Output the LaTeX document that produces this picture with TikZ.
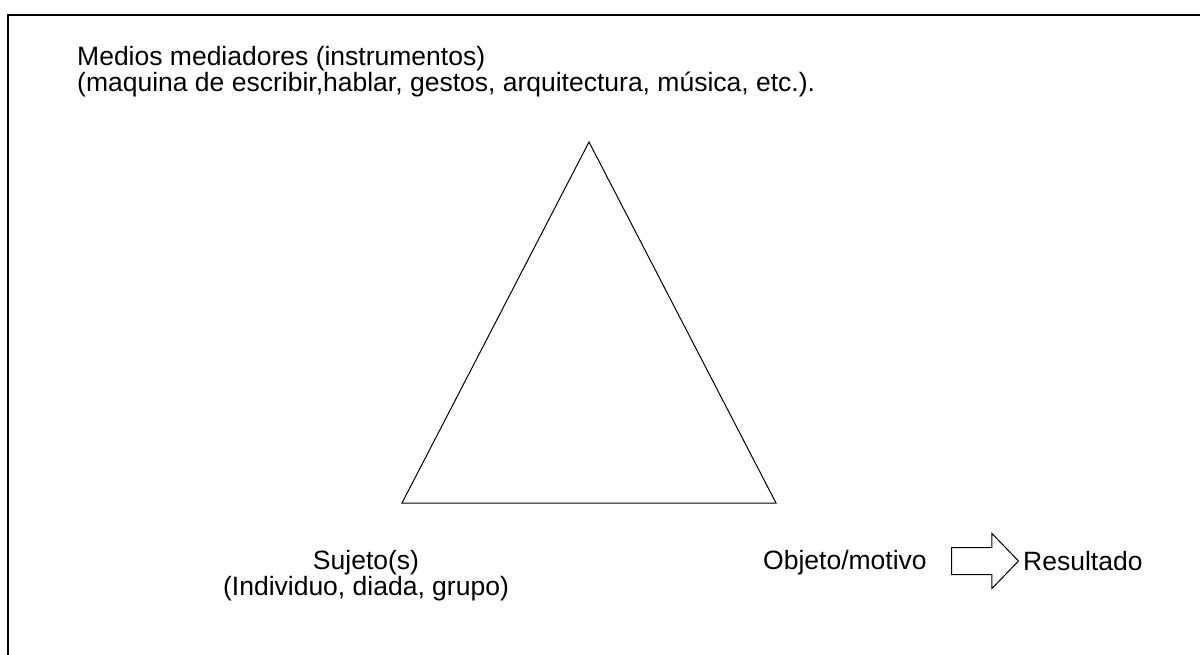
\documentclass[tikz,border=0pt]{standalone}
\usepackage{fontspec}
\setmainfont{Liberation Sans}
\usepackage{xcolor}
\usepackage{tikz}
\usetikzlibrary{positioning,shapes.arrows}
\definecolor{cline}{HTML}{000000}
\tikzset{
  lbl/.style={inner sep=0pt, font=\fontsize{26.5}{26}\selectfont, text=cline},
  marco/.style={draw=cline, line width=1.6pt},
  tri/.style={draw=cline, line width=1pt, line join=miter},
  bigarr/.style={single arrow, draw=cline, line width=1pt, inner xsep=0pt,
    inner ysep=13pt, minimum height=67pt, single arrow head extend=14pt,
    single arrow tip angle=92, anchor=tail},
}
\begin{document}
\begin{tikzpicture}[x=1pt, y=-1pt]
  \useasboundingbox (0,0) rectangle (1200,655);
  % frame
  \draw[marco] (8,655) -- (8,15) -- (1200,15);

  \node[lbl, anchor=north west, align=left] (medios) at (77,46)
    {Medios mediadores (instrumentos)\\(maquina de escribir,hablar, gestos, arquitectura, música, etc.).};

  % triangle
  \coordinate (apex) at (589,142);
  \coordinate (izq) at (402,503);
  \coordinate (der) at (776,503);
  \draw[tri] (apex) -- (izq) -- (der) -- cycle;

  \node[lbl, anchor=north, align=center] (sujeto) at (366,550)
    {Sujeto(s)\\(Individuo, diada, grupo)};
  \node[lbl, anchor=base west] (objeto) at (763,569) {Objeto/motivo};
  \node[bigarr] (flecha) at (951,561) {};
  \node[lbl, anchor=base west] (result) at (1023,570) {Resultado};
\end{tikzpicture}
\end{document}
